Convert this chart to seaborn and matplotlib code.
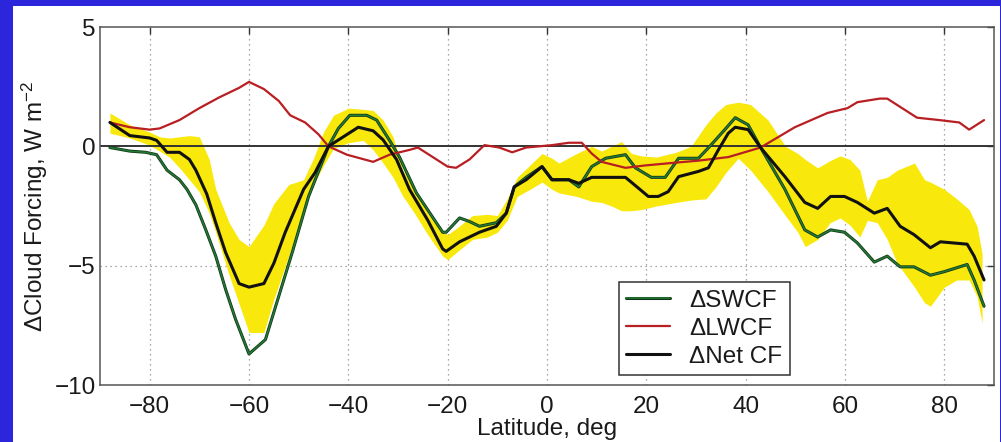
import numpy as np
import pandas as pd
import matplotlib
matplotlib.use("Agg")
import matplotlib.pyplot as plt
import matplotlib.patheffects as pe
from matplotlib.patches import Rectangle
import seaborn as sns

# ---------------- data ----------------
sw_lat = [-88, -84, -80.8, -78.6, -76.5, -74, -72.5, -70.7, -68.7, -66.7, -64.7, -62.7, -60, -56.7,
          -51.3, -48, -44, -42, -39.7, -36.3, -34.3, -31.7, -29.7, -26.3, -21, -20.3, -17.6, -15.6,
          -13.6, -10.2, -8.2, -6.6, -4.2, -1, 1, 4.4, 6.4, 9, 11.8, 15.8, 17.8, 21, 23.8, 26.5, 30.5,
          33, 35.8, 37.9, 40.5, 43, 47.9, 51.9, 54.5, 57.1, 59.9, 62.5, 65.9, 68.5, 71.1, 73.9, 77.2,
          80, 84.6, 86, 88]
sw_val = [-0.05, -0.2, -0.25, -0.35, -1.0, -1.4, -1.8, -2.45, -3.5, -4.6, -6.0, -7.25, -8.7, -8.1,
          -4.45, -2.1, 0.0, 0.75, 1.3, 1.3, 1.1, 0.25, -0.45, -1.95, -3.6, -3.6, -3.0, -3.15,
          -3.35, -3.2, -2.8, -1.7, -1.3, -0.85, -1.4, -1.4, -1.7, -0.85, -0.5, -0.35, -0.9, -1.3, -1.3,
          -0.5, -0.5, 0.05, 0.7, 1.2, 0.9, -0.05, -1.8, -3.5, -3.8, -3.5, -3.6, -4.05, -4.85, -4.6,
          -5.05, -5.05, -5.4, -5.25, -4.95, -5.6, -6.7]

lw_lat = [-88, -84, -80, -78, -74, -70, -66, -62, -60, -57, -54, -51.7, -48.7, -46, -44, -40.3, -35,
          -31.7, -27.7, -26, -23, -20, -18.3, -15.6, -12.6, -9.6, -7, -4.2, 1, 4.4, 7, 9, 11, 15.8,
          19.8, 25, 30.5, 36.5, 43, 49.9, 56.5, 60.5, 62.5, 67, 68.5, 74.5, 79, 83, 85, 88]
lw_val = [1.0, 0.8, 0.7, 0.75, 1.1, 1.6, 2.05, 2.45, 2.7, 2.4, 1.9, 1.3, 1.0, 0.5, 0.0, -0.35, -0.65,
          -0.35, -0.15, -0.05, -0.45, -0.85, -0.9, -0.55, 0.05, -0.05, -0.25, -0.05, 0.05, 0.15, 0.15,
          -0.3, -0.65, -0.9, -0.8, -0.7, -0.6, -0.45, -0.05, 0.8, 1.4, 1.6, 1.85, 2.0, 2.0, 1.2, 1.1,
          1.0, 0.7, 1.1]

net_lat = [-88, -84, -80, -78.6, -76.5, -74, -72, -70.7, -68.5, -66.7, -64.7, -62, -60, -57, -55,
           -52.7, -49, -46.7, -44, -41, -38, -35, -33, -30.3, -27.7, -24, -21, -20.3, -17.6, -13.6,
           -10.2, -8.2, -6.6, -4.2, -1, 1, 4.4, 6.4, 9, 15.8, 18.4, 20.4, 22.4, 24.4, 26.5, 30.5,
           32.5, 34.5, 36.5, 37.9, 40.5, 43, 47.9, 51.9, 54.5, 57.1, 59.9, 62.5, 65.9, 68.5, 71.1,
           73.9, 77.2, 79.2, 84.6, 86, 88]
net_val = [1.0, 0.45, 0.35, 0.25, -0.25, -0.25, -0.55, -1.0, -2.0, -3.2, -4.45, -5.75, -5.9, -5.75,
           -4.9, -3.6, -1.8, -1.1, 0.0, 0.4, 0.8, 0.65, 0.27, -0.55, -1.8, -3.1, -4.3, -4.4, -4.0,
           -3.6, -3.35, -2.8, -1.7, -1.4, -0.85, -1.4, -1.4, -1.55, -1.3, -1.3, -1.75, -2.1, -2.1,
           -1.9, -1.27, -1.05, -0.9, -0.15, 0.55, 0.8, 0.7, -0.05, -1.27, -2.35, -2.6, -2.1, -2.1,
           -2.35, -2.8, -2.6, -3.35, -3.7, -4.25, -4.0, -4.1, -4.6, -5.6]

band_lat = [-88, -84, -80, -78, -76, -74, -72, -70, -68, -66.7, -64, -62, -60, -57, -55, -52, -49,
            -47, -45, -43, -40, -37, -35, -33, -31, -29, -27, -24, -21, -20, -18, -15, -12, -10, -8,
            -6, -3, -1, 1, 2.4, 6, 9, 11, 13, 15, 17, 19, 22, 26, 29, 32, 34, 36, 38.5, 41, 44.5, 48,
            50.5, 52, 54.5, 57, 59, 61, 63, 64.5, 66.5, 68.5, 70.5, 74, 76, 77.2, 80, 82.5, 85, 86.6,
            87.6]
band_hi = [1.4, 0.9, 0.6, 0.4, 0.35, 0.4, 0.45, 0.4, -0.55, -1.8, -3.2, -3.9, -4.2, -3.3, -2.4, -1.6,
           -1.4, -0.5, 0.6, 1.3, 1.6, 1.55, 1.5, 1.1, 0.4, -1.0, -1.6, -2.8, -3.6, -3.7, -3.4, -2.9,
           -2.85, -2.9, -2.2, -1.3, -0.7, -0.3, -0.5, -0.7, -0.3, 0.0, -0.2, 0.0, 0.2, -0.3, -0.4,
           -0.45, -0.25, 0.0, 0.9, 1.4, 1.75, 1.85, 1.75, 1.1, 0.0, -0.3, -0.55, -0.9, -0.6, -0.4,
           -0.55, -1.0, -2.3, -1.4, -1.3, -1.0, -0.7, -1.4, -1.5, -1.8, -2.2, -2.65, -3.35, -4.5]
band_lo = [0.55, 0.35, 0.05, -0.2, -0.45, -0.9, -1.4, -1.9, -2.8, -3.6, -5.4, -6.6, -7.8, -7.8, -6.4,
           -4.6, -2.6, -1.6, -0.8, -0.1, 0.15, 0.25, -0.15, -0.7, -1.3, -2.1, -2.7, -3.7, -4.6, -4.75,
           -4.4, -3.9, -3.8, -3.6, -3.1, -2.1, -1.75, -1.5, -1.8, -1.95, -2.1, -2.3, -2.35, -2.5,
           -2.7, -2.7, -2.65, -2.5, -2.35, -2.25, -2.2, -1.7, -1.1, -0.5, -1.0, -1.9, -2.9, -3.6,
           -4.2, -3.9, -3.2, -3.0, -3.3, -3.8, -3.1, -3.2, -3.9, -4.9, -5.9, -6.55, -6.7, -5.9, -5.6,
           -5.6, -6.3, -7.4]

series_labels = ["\u0394SWCF", "\u0394LWCF", "\u0394Net CF"]
x_ticks = [-80, -60, -40, -20, 0, 20, 40, 60, 80]
y_ticks = [-10, -5, 0, 5]

# ---------------- style ----------------
sns.set_theme(style="white")
plt.rcParams["font.family"] = ["Liberation Sans", "DejaVu Sans"]
plt.rcParams["mathtext.fontset"] = "custom"
plt.rcParams["mathtext.rm"] = "Liberation Sans"
plt.rcParams["mathtext.it"] = "Liberation Sans"
plt.rcParams["axes.unicode_minus"] = True

FS = 17.5
W, H, DPI = 1001, 442, 100
fig = plt.figure(figsize=(W / DPI, H / DPI), dpi=DPI)
fig.patch.set_facecolor("#2b26dc")
fig.patches.append(Rectangle((13 / W, 0), (1000 - 13) / W, (H - 6) / H,
                             transform=fig.transFigure, facecolor="white",
                             edgecolor="none", zorder=-5))

ax = fig.add_axes([100 / W, (H - 385) / H, 894 / W, 358 / H])
ax.set_zorder(2)
ax.set_facecolor("white")

# yellow spread band
ax.fill_between(band_lat, band_lo, band_hi, color="#f9e80c", linewidth=0, zorder=1)

# grid and zero line
for xt in x_ticks:
    ax.axvline(xt, color="#8c8c8c", lw=0.9, ls=(0, (1, 3)), zorder=0.5)
ax.axhline(-5, color="#8c8c8c", lw=0.9, ls=(0, (1, 3)), zorder=0.5)
ax.axhline(0, color="#333333", lw=1.4, zorder=2)

sw_df = pd.DataFrame({"lat": sw_lat, "val": sw_val})
lw_df = pd.DataFrame({"lat": lw_lat, "val": lw_val})
net_df = pd.DataFrame({"lat": net_lat, "val": net_val})

sns.lineplot(data=sw_df, x="lat", y="val", ax=ax, color="#237a33", lw=1.1,
             estimator=None, sort=False, label=series_labels[0], zorder=3,
             path_effects=[pe.Stroke(linewidth=2.2, foreground="#12361a"), pe.Normal()])
sns.lineplot(data=lw_df, x="lat", y="val", ax=ax, color="#b81e22", lw=1.6,
             estimator=None, sort=False, label=series_labels[1], zorder=3)
sns.lineplot(data=net_df, x="lat", y="val", ax=ax, color="#111111", lw=2.2,
             estimator=None, sort=False, label=series_labels[2], zorder=4)

ax.set_xlim(-90, 90)
ax.set_ylim(-10, 5)
ax.set_xticks(x_ticks)
ax.set_yticks(y_ticks)
ax.tick_params(axis="both", direction="in", length=5, width=1, colors="#333333",
               labelcolor="#1a1a1a", labelsize=FS, top=True, right=True)
ax.tick_params(axis="x", pad=8)
ax.tick_params(axis="y", pad=3)
for sp in ax.spines.values():
    sp.set_color("#555555")
    sp.set_linewidth(1.1)
    sp.set_visible(True)

ax.set_xlabel("Latitude, deg", fontsize=FS, color="#1a1a1a", labelpad=0)
ax.set_ylabel("\u0394Cloud Forcing, W m$^{-2}$", fontsize=FS, color="#1a1a1a", labelpad=3)

leg = ax.legend(loc="lower left", bbox_to_anchor=(0.5805, 0.028), borderaxespad=0,
                fancybox=False, framealpha=1, edgecolor="#333333", fontsize=FS,
                handlelength=1.8, handletextpad=0.8, labelspacing=0.25, borderpad=0.3)
leg.get_frame().set_linewidth(1.1)
for t in leg.get_texts():
    t.set_color("#1a1a1a")

fig.savefig("out.png", dpi=DPI, facecolor=fig.get_facecolor())
